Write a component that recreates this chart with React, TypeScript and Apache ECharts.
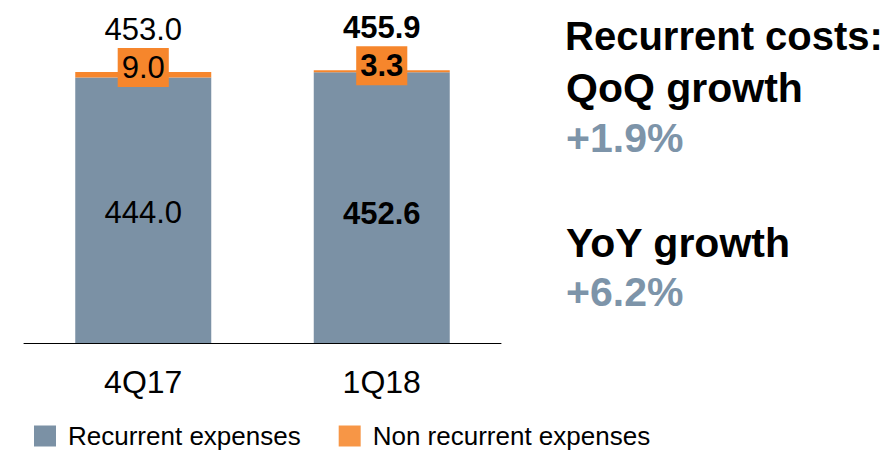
import React, { useEffect, useRef } from "react";
import * as echarts from "echarts";

const categories = ["4Q17", "1Q18"];
const recurrentExpenses = [444.0, 452.6];
const nonRecurrentExpenses = [9.0, 3.3];
const totals = [453.0, 455.9];
const boldIndex = 1;
const seriesNames = ["Recurrent expenses", "Non recurrent expenses"];
const sideTitle = "Recurrent costs:";
const growthLabels = ["QoQ growth", "YoY growth"];
const growthValues = ["+1.9%", "+6.2%"];

const FONT = "'Liberation Sans', Arial, Helvetica, sans-serif";
const GREY = "#7b91a5";
const ORANGE = "#f6862c";
const ORANGE_LEGEND = "#f79646";
const VALUE_GREY = "#7d94a9";

export default function App() {
  const ref = useRef<HTMLDivElement>(null);
  useEffect(() => {
    document.body.style.margin = "0";
    if (!ref.current) return;
    const chart = echarts.init(ref.current, undefined, { renderer: "svg" });
    const fw = (i: number) => (i === boldIndex ? "bold" : "normal");
    const option: any = {
      animation: false,
      textStyle: { fontFamily: FONT },
      grid: { left: 24, right: 383, top: 44, bottom: 107 },
      legend: {
        left: 34,
        top: 423,
        padding: 0,
        itemWidth: 22,
        itemHeight: 21,
        itemGap: 38,
        icon: "rect",
        selectedMode: false,
        data: [
          { name: seriesNames[0], itemStyle: { color: GREY } },
          { name: seriesNames[1], itemStyle: { color: ORANGE_LEGEND } },
        ],
        textStyle: { fontSize: 26, color: "#000", fontFamily: FONT, padding: [0, 0, 0, 7] },
      },
      xAxis: {
        type: "category",
        data: categories,
        axisLine: { show: true, lineStyle: { color: "#000", width: 1 } },
        axisTick: { show: false },
        axisLabel: { fontSize: 32, color: "#000", margin: 23, fontFamily: FONT },
      },
      yAxis: {
        type: "value",
        min: 0,
        max: 500,
        show: false,
        splitLine: { show: false },
      },
      series: [
        {
          name: seriesNames[0],
          type: "bar",
          stack: "total",
          barWidth: 136,
          itemStyle: { color: GREY },
          data: recurrentExpenses.map((v, i) => ({
            value: v,
            label: { fontWeight: fw(i), offset: [0, i === boldIndex ? 6 : 2] },
          })),
          label: {
            show: true,
            position: "inside",
            fontSize: 31,
            color: "#000",
            fontFamily: FONT,
            formatter: (p: any) => Number(p.value).toFixed(1),
          },
        },
        {
          name: seriesNames[1],
          type: "bar",
          stack: "total",
          barWidth: 136,
          itemStyle: { color: ORANGE },
          data: nonRecurrentExpenses.map((v, i) => ({
            value: v,
            label: { fontWeight: fw(i) },
          })),
          label: {
            show: true,
            position: "top",
            distance: -15,
            fontSize: 31,
            color: "#000",
            fontFamily: FONT,
            backgroundColor: ORANGE,
            padding: [4, 4, 4, 4],
            formatter: (p: any) => Number(p.value).toFixed(1),
          },
        },
        {
          name: "Total",
          type: "bar",
          stack: "total",
          barWidth: 136,
          itemStyle: { color: "transparent" },
          data: totals.map((_, i) => ({
            value: 0,
            label: { fontWeight: fw(i) },
          })),
          label: {
            show: true,
            position: "top",
            distance: 27,
            fontSize: 31,
            color: "#000",
            fontFamily: FONT,
            formatter: (p: any) => totals[p.dataIndex].toFixed(1),
          },
        },
      ],
      graphic: [
        { type: "text", left: 565, top: 16, style: { text: sideTitle, font: `bold 40px ${FONT}`, fill: "#000" } },
        { type: "text", left: 566, top: 67, style: { text: growthLabels[0], font: `bold 41px ${FONT}`, fill: "#000" } },
        { type: "text", left: 566, top: 117, style: { text: growthValues[0], font: `bold 41px ${FONT}`, fill: VALUE_GREY } },
        { type: "text", left: 566, top: 222, style: { text: growthLabels[1], font: `bold 41px ${FONT}`, fill: "#000" } },
        { type: "text", left: 566, top: 271, style: { text: growthValues[1], font: `bold 41px ${FONT}`, fill: VALUE_GREY } },
      ],
    };
    chart.setOption(option);
    return () => chart.dispose();
  }, []);
  return <div ref={ref} style={{ width: 884, height: 450 }} />;
}
